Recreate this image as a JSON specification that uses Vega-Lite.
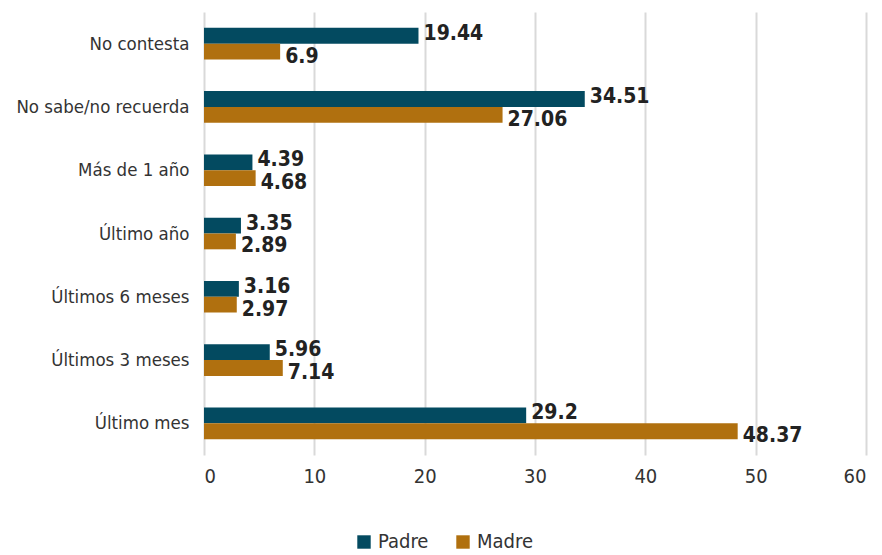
{
  "$schema": "https://vega.github.io/schema/vega-lite/v6.json",
  "width": 662,
  "height": 443,
  "autosize": {"type": "none"},
  "padding": {"left": 204, "top": 12, "right": 16, "bottom": 100},
  "background": "white",
  "config": {
    "view": {"stroke": null},
    "font": "DejaVu Sans Condensed"
  },
  "data": {
    "values": [
      {"cat": "No contesta", "serie": "Padre", "v": 19.44},
      {"cat": "No contesta", "serie": "Madre", "v": 6.9},
      {"cat": "No sabe/no recuerda", "serie": "Padre", "v": 34.51},
      {"cat": "No sabe/no recuerda", "serie": "Madre", "v": 27.06},
      {"cat": "Más de 1 año", "serie": "Padre", "v": 4.39},
      {"cat": "Más de 1 año", "serie": "Madre", "v": 4.68},
      {"cat": "Último año", "serie": "Padre", "v": 3.35},
      {"cat": "Último año", "serie": "Madre", "v": 2.89},
      {"cat": "Últimos 6 meses", "serie": "Padre", "v": 3.16},
      {"cat": "Últimos 6 meses", "serie": "Madre", "v": 2.97},
      {"cat": "Últimos 3 meses", "serie": "Padre", "v": 5.96},
      {"cat": "Últimos 3 meses", "serie": "Madre", "v": 7.14},
      {"cat": "Último mes", "serie": "Padre", "v": 29.2},
      {"cat": "Último mes", "serie": "Madre", "v": 48.37}
    ]
  },
  "encoding": {
    "y": {
      "field": "cat",
      "type": "nominal",
      "sort": null,
      "scale": {"paddingInner": 0.5, "paddingOuter": 0.25},
      "axis": {
        "title": null,
        "ticks": false,
        "domain": false,
        "labelFontSize": 18.5,
        "labelColor": "#333333",
        "labelPadding": 15,
        "labelFont": "DejaVu Sans Condensed"
      }
    },
    "yOffset": {
      "field": "serie",
      "type": "nominal",
      "sort": ["Padre", "Madre"]
    },
    "x": {
      "field": "v",
      "type": "quantitative",
      "scale": {"domain": [0, 60], "nice": false},
      "axis": {
        "title": null,
        "values": [0, 10, 20, 30, 40, 50, 60],
        "ticks": false,
        "domain": false,
        "grid": true,
        "gridColor": "#d9d9d9",
        "gridWidth": 2,
        "labelFontSize": 20,
        "labelColor": "#333333",
        "labelPadding": 11,
        "labelFont": "DejaVu Sans Condensed"
      }
    }
  },
  "layer": [
    {
      "mark": {"type": "bar"},
      "encoding": {
        "color": {
          "field": "serie",
          "type": "nominal",
          "sort": ["Padre", "Madre"],
          "scale": {"domain": ["Padre", "Madre"], "range": ["#034a60", "#b0700f"]},
          "legend": {
            "title": null,
            "orient": "none",
            "direction": "horizontal",
            "legendX": 150,
            "legendY": 520,
            "symbolType": "square",
            "symbolSize": 180,
            "symbolStrokeWidth": 0,
            "labelFontSize": 20,
            "labelColor": "#333333",
            "labelFont": "DejaVu Sans Condensed",
            "columnPadding": 24,
            "labelOffset": 4
          }
        }
      }
    },
    {
      "transform": [{"filter": "datum.serie === 'Padre'"}],
      "mark": {
        "type": "text",
        "align": "left",
        "baseline": "middle",
        "dx": 5,
        "dy": -2,
        "fontSize": 21,
        "fontWeight": "bold",
        "color": "#222222",
        "font": "DejaVu Sans Condensed"
      },
      "encoding": {
        "text": {"field": "v", "type": "quantitative"}
      }
    },
    {
      "transform": [{"filter": "datum.serie === 'Madre'"}],
      "mark": {
        "type": "text",
        "align": "left",
        "baseline": "middle",
        "dx": 5,
        "dy": 5,
        "fontSize": 21,
        "fontWeight": "bold",
        "color": "#222222",
        "font": "DejaVu Sans Condensed"
      },
      "encoding": {
        "text": {"field": "v", "type": "quantitative"}
      }
    }
  ]
}
